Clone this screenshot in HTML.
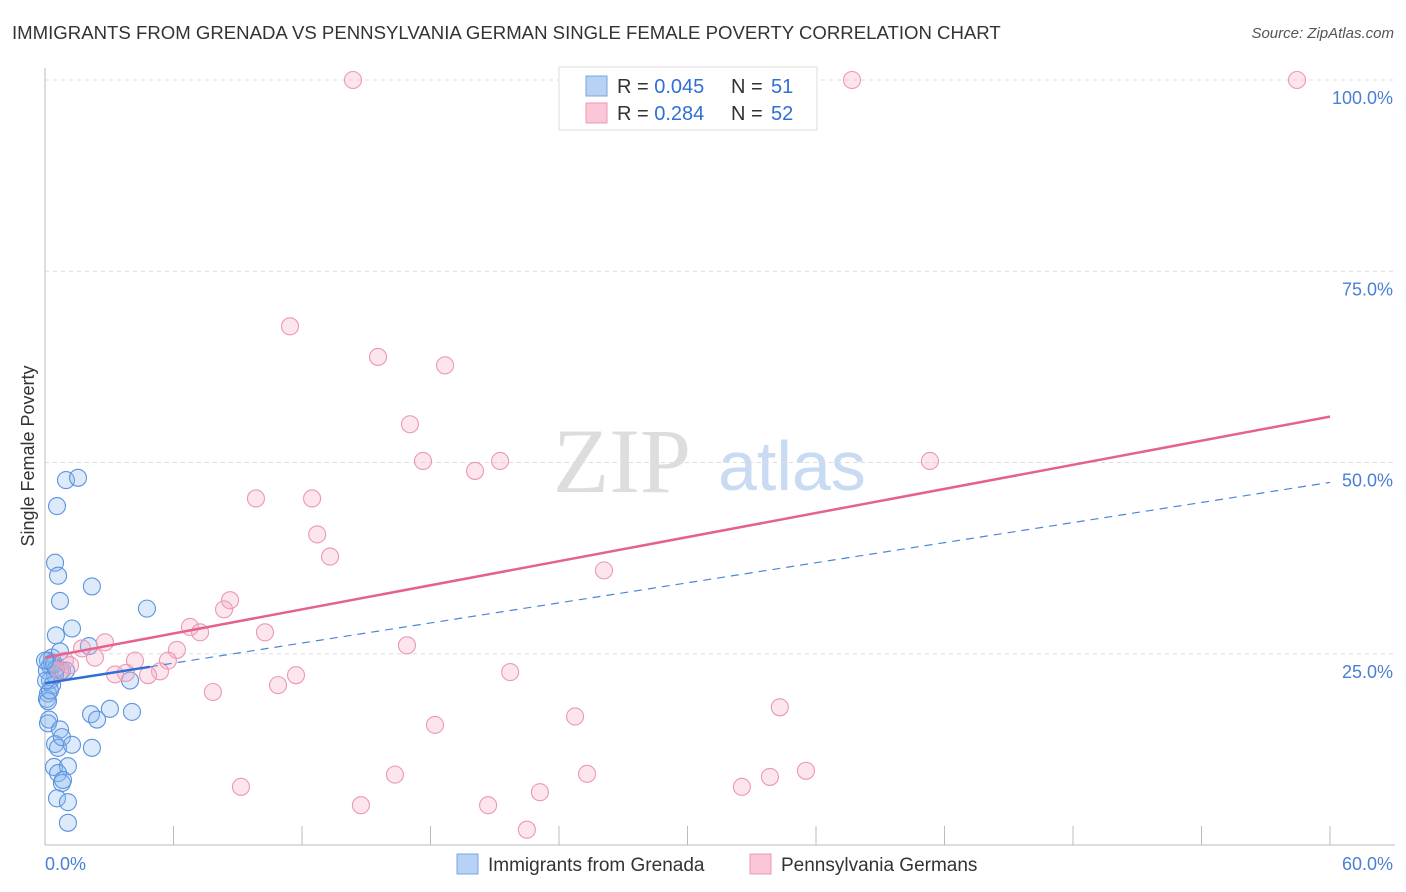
<!DOCTYPE html>
<html><head><meta charset="utf-8">
<style>
body{margin:0;background:#fff;font-family:"Liberation Sans",sans-serif;}
#wrap{position:relative;width:1406px;height:892px;}
.t{position:absolute;white-space:nowrap;}
</style></head>
<body>
<div id="wrap">
<div class="t" style="left:12px;top:22px;font-size:18.6px;color:#333;">IMMIGRANTS FROM GRENADA VS PENNSYLVANIA GERMAN SINGLE FEMALE POVERTY CORRELATION CHART</div>
<div class="t" style="right:12px;top:25px;font-size:15px;color:#555;font-style:italic;">Source: ZipAtlas.com</div>
<svg id="svg" width="1406" height="892" style="position:absolute;left:0;top:0"></svg>
</div>
<script>
const blueX=[0.98,1.54,0.56,0.47,0.61,2.19,0.70,4.76,1.26,0.51,2.05,0.33,0.14,0.23,0.09,0.79,0.98,0.47,0.23,0.33,3.97,0.14,0.09,0.14,0.19,0.14,2.15,2.43,3.03,4.06,0.70,0.47,0.61,0.79,1.26,2.19,0.42,1.07,0.61,0.79,0.56,1.07,1.07,0.84,0.23,0.33,0.42,0.51,0.00,0.05,0.70];
const blueY=[47.7,48.0,44.3,36.9,35.2,33.8,31.9,30.9,28.3,27.4,26.0,24.5,24.1,23.4,22.8,22.8,22.8,22.2,21.5,20.9,21.5,19.8,19.1,18.8,16.4,15.9,17.1,16.4,17.8,17.4,15.1,13.2,12.7,14.1,13.1,12.7,10.2,10.3,9.4,8.1,6.1,5.6,2.9,8.5,20.2,23.8,23.6,23.0,24.1,21.5,25.3];
const pinkX=[14.38,37.68,58.46,11.44,15.55,18.68,17.04,17.65,20.08,21.25,41.32,9.85,12.47,12.71,13.31,26.10,8.64,8.36,6.77,7.24,10.27,2.80,16.90,1.73,6.16,2.33,0.93,4.20,5.74,1.17,3.78,3.27,5.37,4.81,11.72,10.88,21.72,7.84,34.31,18.21,24.75,9.15,16.34,25.31,14.75,20.69,23.11,22.50,32.54,33.85,35.53,0.70];
const pinkY=[100,100,100,67.8,63.8,62.7,55.0,50.2,48.9,50.2,50.2,45.3,45.3,40.6,37.7,35.9,32.0,30.8,28.5,27.8,27.8,26.5,26.1,25.7,25.5,24.5,24.1,24.1,24.1,23.5,22.5,22.3,22.7,22.2,22.2,20.9,22.6,20.0,18.0,15.7,16.8,7.6,9.2,9.3,5.2,5.2,6.9,2.0,7.6,8.9,9.7,22.7];
const xTicks=[0,60];
const yTicks=[25,50,75,100];
const blueTrend=[21.15,47.4];
const pinkTrend=[24.5,56.0];

const X0=45,X1=1330,Y0=845,Y100=80;
const sx=v=>X0+(v/60)*(X1-X0);
const sy=v=>Y0-(v/100)*(Y0-Y100);
const svg=document.getElementById('svg');
const NS='http://www.w3.org/2000/svg';
function mk(tag,attrs,parent){const e=document.createElementNS(NS,tag);for(const k in attrs)e.setAttribute(k,attrs[k]);(parent||svg).appendChild(e);return e;}

let wm=mk('text',{x:553,y:492,'font-size':92,'font-family':'Liberation Serif, serif',fill:'#ddd'});


wm.textContent='ZIP';
let wm2=mk('text',{x:718,y:490,'font-size':70,'font-family':'Liberation Sans, sans-serif',fill:'#c9daf3'});


wm2.textContent='atlas';

yTicks.forEach(v=>{
 let g=mk('line',{x1:X0,x2:1395,y1:sy(v),y2:sy(v),stroke:'#ddd','stroke-dasharray':'4,4'});
 
 
 let t=mk('text',{x:1393,y:sy(v)+24,'text-anchor':'end','font-size':18,fill:'#4a7fd4'});
 
 
 t.textContent=v.toFixed(1)+'%';
});
let ax=mk('line',{x1:X0,x2:X0,y1:68,y2:Y0,stroke:'#bbb'});


let axx=mk('line',{x1:X0,x2:1395,y1:Y0,y2:Y0,stroke:'#bbb'});


for(let i=1;i<=10;i++){
 let tk=mk('line',{x1:sx(i*6),x2:sx(i*6),y1:826,y2:Y0,stroke:'#bbb'});
 
 
}
xTicks.forEach((v,i)=>{
 let t=mk('text',{x:i==0?45:1393,y:870,'text-anchor':i==0?'start':'end','font-size':18,fill:'#4a7fd4'});
 
 
 t.textContent=v.toFixed(1)+'%';
});
let yt=mk('text',{x:34,y:456,transform:'rotate(-90 34 456)','text-anchor':'middle','font-size':18,fill:'#333'});


yt.textContent='Single Female Poverty';

blueX.forEach((x,i)=>{
 let c=mk('circle',{cx:sx(x),cy:sy(blueY[i]),r:8.5,fill:'rgba(140,185,240,0.3)',stroke:'#5b93e0','stroke-width':1.1});
 
 
});
pinkX.forEach((x,i)=>{
 let c=mk('circle',{cx:sx(x),cy:sy(pinkY[i]),r:8.5,fill:'rgba(245,170,195,0.3)',stroke:'#eb98b3','stroke-width':1.1});
 
 
});
const bAt=x=>blueTrend[0]+(blueTrend[1]-blueTrend[0])*x/60;
let bs=mk('line',{x1:sx(0),y1:sy(bAt(0)),x2:sx(4.9),y2:sy(bAt(4.9)),stroke:'#2f6fd6','stroke-width':2.5});


let bd=mk('line',{x1:sx(4.9),y1:sy(bAt(4.9)),x2:sx(60),y2:sy(bAt(60)),stroke:'#4a86dc','stroke-width':1.2,'stroke-dasharray':'8,6'});


let pl=mk('line',{x1:sx(0),y1:sy(pinkTrend[0]),x2:sx(60),y2:sy(pinkTrend[1]),stroke:'#e4628e','stroke-width':2.5});



let lg=mk('rect',{x:559,y:67,width:258,height:63,fill:'#fff',stroke:'#ddd'});


const rows=[['#b7d2f5','#7aa6e0','0.045','51',86],['#f9c7d6','#ec9ab5','0.284','52',113]];
rows.forEach(r=>{
 let s=mk('rect',{x:586,y:r[4]-10,width:21,height:20,fill:r[0],stroke:r[1]});
 
 
 let t=mk('text',{x:617,y:r[4]+7,'font-size':20,fill:'#333'});
 
 
 t.innerHTML='R = <tspan fill="#2f6fd6">'+r[2]+'</tspan><tspan x="731">N = </tspan><tspan x="771" fill="#2f6fd6">'+r[3]+'</tspan>';
});
[['#b7d2f5','#7aa6e0','Immigrants from Grenada',457],['#f9c7d6','#ec9ab5','Pennsylvania Germans',750]].forEach(r=>{
 let s=mk('rect',{x:r[3],y:854,width:21,height:20,fill:r[0],stroke:r[1]});
 
 
 let t=mk('text',{x:r[3]+31,y:871,'font-size':19,fill:'#333'});
 
 
 t.textContent=r[2];
});
</script>
</body></html>
